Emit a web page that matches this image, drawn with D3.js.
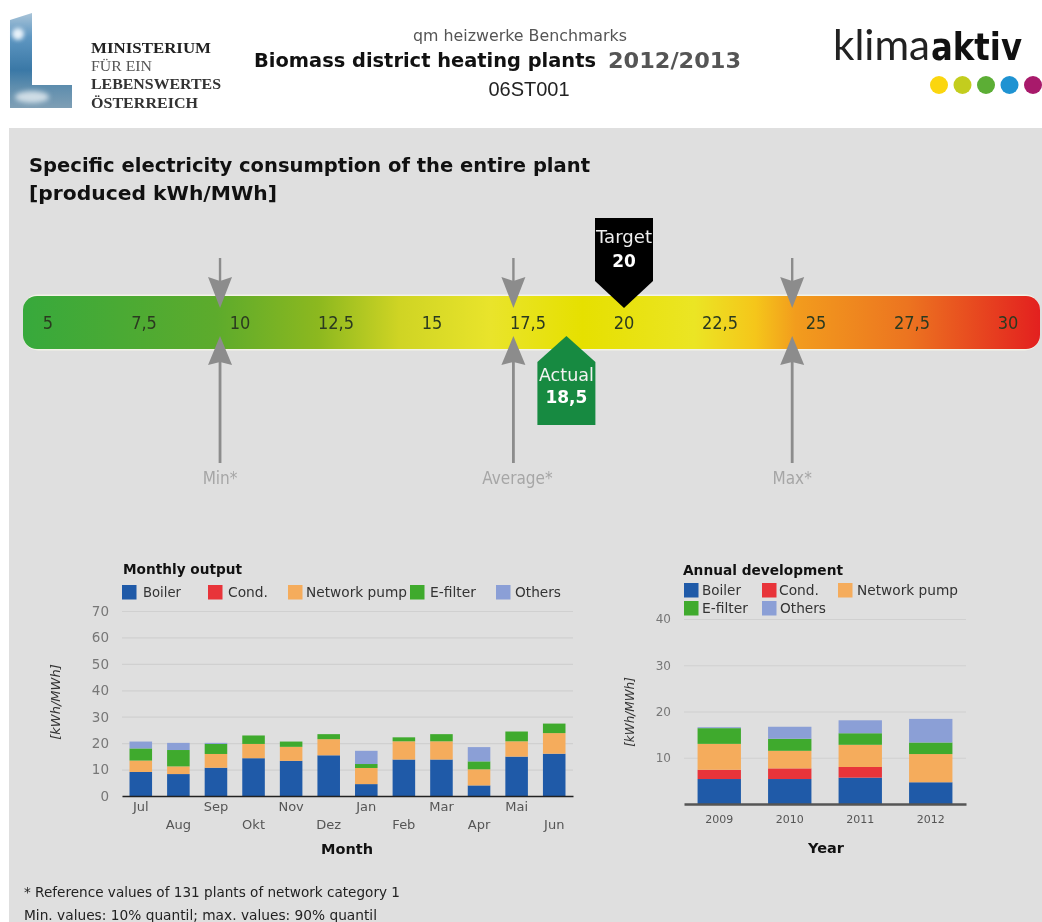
<!DOCTYPE html>
<html><head><meta charset="utf-8">
<script src="https://cdn.jsdelivr.net/npm/d3@7/dist/d3.min.js"></script>
<style>
html,body{margin:0;padding:0;background:#fff;overflow:hidden}
svg{display:block;filter:blur(0.55px)}
text{font-family:"DejaVu Sans",sans-serif}
</style></head><body>
<svg id="c" width="1042" height="922"></svg>
<script>
// ---------- data ----------
const seriesNames = ["Boiler","Cond.","Network pump","E-filter","Others"];
const seriesColors = ["#1f5aa8","#e8343a","#f5ac5c","#3faa2d","#8b9fd6"];
const months = ["Jul","Aug","Sep","Okt","Nov","Dez","Jan","Feb","Mar","Apr","Mai","Jun"];
const monthBoiler = [9.1,8.3,10.7,14.3,13.3,15.4,4.5,13.8,13.8,4.0,14.9,16.0];
const monthCond   = [0,0,0,0,0,0,0,0,0,0,0,0];
const monthPump   = [4.3,2.9,5.2,5.4,5.3,6.1,6.1,6.9,6.9,6.1,5.8,7.8];
const monthFilter = [4.6,6.2,3.8,3.2,2.0,1.9,1.5,1.5,2.7,3.0,3.7,3.6];
const monthOthers = [2.6,2.7,0.4,0,0,0,5.0,0,0,5.4,0,0];
const years = ["2009","2010","2011","2012"];
const yearBoiler = [5.4,5.4,5.7,4.7];
const yearCond   = [2.0,2.3,2.3,0];
const yearPump   = [5.6,3.8,4.8,6.1];
const yearFilter = [3.4,2.6,2.5,2.5];
const yearOthers = [0.2,2.6,2.8,5.1];
const monthTicks = [0,10,20,30,40,50,60,70];
const yearTicks = [10,20,30,40];
const gaugeTicks = [5,7.5,10,12.5,15,17.5,20,22.5,25,27.5,30];
const refNames = ["Min*","Average*","Max*"];
const refValues = [9.48,17.12,24.38];
const targetValue = 20;
const actualValue = 18.5;
const dotColors = ["#fbd60f","#c3cd1e","#5cae35","#1f93d2","#a81a6b"];

const svg = d3.select("#c");
const defs = svg.append("defs");
const fmt = v => String(v).replace(".",",");

// ---------- page ----------
svg.append("rect").attr("x",9).attr("y",128).attr("width",1033).attr("height",794).attr("fill","#dfdfdf");

// ministry logo
const lg = defs.append("linearGradient").attr("id","sky").attr("x1",0).attr("y1",0).attr("x2",0).attr("y2",1);
[[0,"#a9c4d8"],[.25,"#5f97c2"],[.6,"#3a78a6"],[.78,"#5f8eae"],[1,"#7f9fb5"]].forEach(s=>lg.append("stop").attr("offset",s[0]).attr("stop-color",s[1]));
svg.append("path").attr("d","M10 20 L32 13 L32 85 L72 85 L72 108 L10 108 Z").attr("fill","url(#sky)");
svg.append("circle").attr("cx",18).attr("cy",34).attr("r",6).attr("fill","#e8f2fa").style("filter","blur(2px)");
svg.append("ellipse").attr("cx",32).attr("cy",97).attr("rx",17).attr("ry",6).attr("fill","#cfdde6").style("filter","blur(2.5px)");
[["MINISTERIUM",53,700,"#222",120],["FÜR EIN",71,400,"#555",61],["LEBENSWERTES",89,700,"#333",130],["ÖSTERREICH",108,700,"#333",107]].forEach(r=>
  svg.append("text").attr("x",91).attr("y",r[1]).text(r[0]).style("font-family","'Liberation Serif',serif")
    .style("font-size","14.5px").style("font-weight",r[2]).attr("fill",r[3])
    .attr("textLength",r[4]).attr("lengthAdjust","spacingAndGlyphs"));

// header
svg.append("text").attr("x",413).attr("y",41).text("qm heizwerke Benchmarks")
  .style("font-size","15px").attr("fill","#555").attr("textLength",214).attr("lengthAdjust","spacingAndGlyphs");
svg.append("text").attr("x",254).attr("y",67).text("Biomass district heating plants")
  .style("font-size","19px").style("font-weight",700).attr("fill","#111")
  .attr("textLength",342).attr("lengthAdjust","spacingAndGlyphs");
svg.append("text").attr("x",608).attr("y",68).text("2012/2013")
  .style("font-size","21px").style("font-weight",700).attr("fill","#555")
  .attr("textLength",133).attr("lengthAdjust","spacingAndGlyphs");
svg.append("text").attr("x",529).attr("y",96).attr("text-anchor","middle").text("06ST001")
  .style("font-family","'Liberation Sans',sans-serif").style("font-size","20px").attr("fill","#222");

// klimaaktiv
svg.append("text").attr("x",833).attr("y",60).text("klima")
  .style("font-family","Lato,sans-serif").style("font-weight",400).style("font-size","43px").attr("fill","#222")
  .attr("textLength",97).attr("lengthAdjust","spacingAndGlyphs");
svg.append("text").attr("x",931).attr("y",60).text("aktiv")
  .style("font-weight",700).style("font-size","37px").attr("fill","#111")
  .attr("textLength",91).attr("lengthAdjust","spacingAndGlyphs");
svg.append("g").selectAll("circle").data(dotColors).join("circle")
  .attr("cx",(d,i)=>939+i*23.5).attr("cy",85).attr("r",9).attr("fill",d=>d);

// title
svg.append("text").attr("x",29).attr("y",172).text("Specific electricity consumption of the entire plant")
  .style("font-size","20px").style("font-weight",700).attr("fill","#111").attr("textLength",561).attr("lengthAdjust","spacingAndGlyphs");
svg.append("text").attr("x",29).attr("y",200).text("[produced kWh/MWh]")
  .style("font-size","20px").style("font-weight",700).attr("fill","#111").attr("textLength",248).attr("lengthAdjust","spacingAndGlyphs");

// ---------- gauge ----------
const gx = d3.scaleLinear().domain([5,30]).range([48,1008]);
const gTop = 296, gBot = 349;
const gg = defs.append("linearGradient").attr("id","gauge");
[[0,"#37a93c"],[.19,"#5dab2c"],[.29,"#8cb81f"],[.37,"#cfd424"],[.46,"#e9e42b"],[.55,"#e6e000"],[.66,"#ebe524"],[.72,"#f5c61a"],[.76,"#f29c1d"],[.87,"#ec7420"],[1,"#e3201f"]]
  .forEach(s=>gg.append("stop").attr("offset",s[0]).attr("stop-color",s[1]));
svg.append("rect").attr("x",23).attr("y",gTop-1.5).attr("width",1017).attr("height",gBot-gTop+3).attr("rx",15).attr("fill","#f3f3e8");
svg.append("rect").attr("x",23).attr("y",gTop).attr("width",1017).attr("height",gBot-gTop).attr("rx",14).attr("fill","url(#gauge)");
svg.append("g").selectAll("text").data(gaugeTicks).join("text")
  .attr("x",d=>gx(d)).attr("y",329).attr("text-anchor","middle").text(fmt)
  .style("font-size","18px").style("font-stretch","condensed").attr("fill","#2b3a20");

const gray = "#8c8c8c";
const refLabelShift = [0,4,0];
refValues.forEach((v,i)=>{
  const x = gx(v);
  const g = svg.append("g");
  g.append("line").attr("x1",x).attr("x2",x).attr("y1",258).attr("y2",285).attr("stroke",gray).attr("stroke-width",2.4);
  g.append("path").attr("d",`M${x-12} 277 L${x} 281 L${x+12} 277 L${x} 308 Z`).attr("fill",gray);
  g.append("line").attr("x1",x).attr("x2",x).attr("y1",355).attr("y2",463).attr("stroke",gray).attr("stroke-width",2.8);
  g.append("path").attr("d",`M${x-12} 365 L${x} 362 L${x+12} 365 L${x} 336 Z`).attr("fill",gray);
  g.append("text").attr("x",x+refLabelShift[i]).attr("y",484).attr("text-anchor","middle").text(refNames[i])
    .style("font-size","17px").style("font-stretch","condensed").attr("fill","#a6a6a6");
});
const tx = gx(targetValue);
svg.append("path").attr("d",`M${tx-29} 218 H${tx+29} V281 L${tx} 308 L${tx-29} 281 Z`).attr("fill","#000");
svg.append("text").attr("x",tx).attr("y",243).attr("text-anchor","middle").text("Target").style("font-size","18px").attr("fill","#eee")
  .attr("textLength",56).attr("lengthAdjust","spacingAndGlyphs");
svg.append("text").attr("x",tx).attr("y",267).attr("text-anchor","middle").text(fmt(targetValue)).style("font-size","17px").style("font-weight",700).attr("fill","#fff");
const ax = gx(actualValue);
svg.append("path").attr("d",`M${ax} 336 L${ax+29} 362 V425 H${ax-29} V362 Z`).attr("fill","#178a41");
svg.append("text").attr("x",ax).attr("y",381).attr("text-anchor","middle").text("Actual").style("font-size","18px").attr("fill","#f2f2f2")
  .attr("textLength",55).attr("lengthAdjust","spacingAndGlyphs");
svg.append("text").attr("x",ax).attr("y",403).attr("text-anchor","middle").text(fmt(actualValue)).style("font-size","17px").style("font-weight",700).attr("fill","#fff");

// ---------- stacked charts ----------
function stacked(o){
  const rows = o.cats.map((c,i)=>{const r={cat:c}; seriesNames.forEach((s,j)=>r[s]=o.vals[j][i]); return r;});
  const x = d3.scaleBand().domain(o.cats).range(o.xr).paddingInner(o.pad).paddingOuter(o.pad/2);
  const y = d3.scaleLinear().domain(o.yd).range(o.yr);
  const grid = svg.append("g").attr("transform",`translate(${o.xr[0]},0)`)
    .call(d3.axisLeft(y).tickValues(o.ticks).tickFormat(d3.format("d")).tickSize(o.xr[0]-o.xr[1]).tickPadding(o.tickPad));
  grid.select(".domain").remove();
  grid.selectAll(".tick line").attr("stroke","#d0d0d0").attr("stroke-width",1.2);
  grid.selectAll("text").style("font-size",o.tickFont).style("font-family","'DejaVu Sans',sans-serif").attr("fill","#777");
  const stack = d3.stack().keys(seriesNames)(rows);
  svg.append("g").selectAll("g").data(stack).join("g").attr("fill",(d,i)=>seriesColors[i])
    .selectAll("rect").data(d=>d).join("rect")
    .attr("x",d=>x(d.data.cat)).attr("width",x.bandwidth())
    .attr("y",d=>y(d[1])).attr("height",d=>y(d[0])-y(d[1]));
  const xa = svg.append("g").attr("transform",`translate(0,${o.yr[0]})`)
    .call(d3.axisBottom(x).tickSize(0).tickPadding(o.xPad));
  xa.select(".domain").attr("stroke",o.baseColor).attr("stroke-width",o.baseWidth);
  xa.selectAll("text").style("font-size",o.xFont).style("font-family","'DejaVu Sans',sans-serif").attr("fill","#555")
    .attr("dy",(d,i)=> o.stagger && i%2 ? "2.05em" : "0.71em");
  svg.append("text").attr("x",o.titleX).attr("y",o.titleY).text(o.title).style("font-size","14px").style("font-weight",700).attr("fill","#111")
    .attr("textLength",o.titleW).attr("lengthAdjust","spacingAndGlyphs");
  svg.append("text").attr("x",o.xLabelX).attr("y",o.xLabelY).attr("text-anchor","middle").text(o.xLabel).style("font-size","14.5px").style("font-weight",700).attr("fill","#111");
  svg.append("text").attr("transform",`translate(${o.yLabelX},${o.yLabelY}) rotate(-90)`).attr("text-anchor","middle").text("[kWh/MWh]")
    .style("font-size",o.yLabelFont).style("font-style","italic").attr("fill","#333");
  o.legend.forEach((l,i)=>{
    svg.append("rect").attr("x",l[0]).attr("y",l[1]).attr("width",14.5).attr("height",14.5).attr("fill",seriesColors[i]);
    svg.append("text").attr("x",l[2]).attr("y",l[1]+12).text(seriesNames[i]).style("font-size","14px").attr("fill","#333")
      .attr("textLength",l[3]).attr("lengthAdjust","spacingAndGlyphs");
  });
}
stacked({cats:months,vals:[monthBoiler,monthCond,monthPump,monthFilter,monthOthers],
  xr:[122,573],yd:[0,70],yr:[796,611],pad:.4,ticks:monthTicks,tickPad:13,tickFont:"13.5px",
  baseColor:"#222",baseWidth:1.5,xPad:6,xFont:"13px",stagger:true,
  title:"Monthly output",titleW:119,titleX:123,titleY:574,xLabel:"Month",xLabelX:347,xLabelY:854,yLabelX:60,yLabelY:702,yLabelFont:"13px",
  legend:[[122,585,143,38],[208,585,228,40],[288,585,306,101],[410,585,430,46],[496,585,515,46]]});
stacked({cats:years,vals:[yearBoiler,yearCond,yearPump,yearFilter,yearOthers],
  xr:[684,966],yd:[0,40],yr:[804,619],pad:.385,ticks:yearTicks,tickPad:13,tickFont:"12px",
  baseColor:"#555",baseWidth:2.5,xPad:11,xFont:"11px",stagger:false,
  title:"Annual development",titleW:160,titleX:683,titleY:575,xLabel:"Year",xLabelX:826,xLabelY:853,yLabelX:634,yLabelY:712,yLabelFont:"12px",
  legend:[[684,583,702,39],[762,583,779,40],[838,583,857,101],[684,601,702,46],[762,601,780,46]]});

// footer
svg.append("text").attr("x",24).attr("y",897).text("* Reference values of 131 plants of network category 1").style("font-size","14px").attr("fill","#222")
  .attr("textLength",376).attr("lengthAdjust","spacingAndGlyphs");
svg.append("text").attr("x",24).attr("y",920).text("Min. values: 10% quantil; max. values: 90% quantil").style("font-size","14px").attr("fill","#222")
  .attr("textLength",353).attr("lengthAdjust","spacingAndGlyphs");
</script>
</body></html>
